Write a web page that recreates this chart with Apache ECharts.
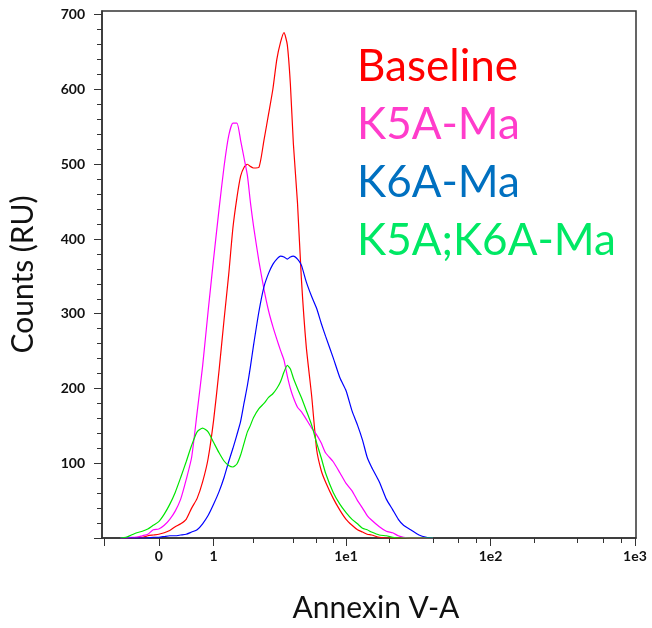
<!DOCTYPE html>
<html>
<head>
<meta charset="utf-8">
<script src="https://cdn.jsdelivr.net/npm/echarts@6/dist/echarts.min.js"></script>
<style>
  html, body { margin: 0; padding: 0; background: #fff; }
  #main { width: 652px; height: 628px; }
</style>
</head>
<body>
<div id="main"></div>
<script>
// Annexin V-A bins (fluorescence units, logicle display)
const annexin = [-0.7, -0.6, -0.5, -0.4, -0.3, -0.2, -0.1, 0, 0.1, 0.2, 0.3, 0.4, 0.5, 0.6, 0.7, 0.8, 0.9, 1.0,
  1.1, 1.2, 1.3, 1.4, 1.5, 1.6, 1.7, 1.8, 1.9, 2.0, 2.2, 2.4, 2.6, 2.8, 3.0, 3.2, 3.4, 3.6, 3.8, 4.0,
  4.3, 4.6, 5.0, 5.5, 6.0, 6.5, 7.0, 8.0, 9.0, 10,
  11, 12, 13, 14, 15, 17, 19, 21, 23, 25, 28, 32, 36, 40];

// counts per bin
const baseline = [0, 0, 0, 1, 1, 3, 4, 5, 7, 10, 15, 19, 25, 40, 53, 75, 106, 157,
  224, 292, 352, 415, 455, 484, 496, 500, 497, 495, 496, 532, 567, 600, 640, 663, 676, 660, 607, 528,
  448, 347, 257, 190, 118, 90, 75, 53, 37, 25,
  17, 11, 8, 5, 4, 1, 0, 0, 0, 0, 0, 0, 0, 0];
const k5a = [0, 0, 1, 1, 3, 5, 11, 12, 17, 25, 36, 52, 78, 108, 168, 230, 303, 373,
  440, 497, 538, 555, 555, 532, 508, 485, 448, 418, 370, 333, 304, 283, 266, 251, 238, 217, 200, 188,
  175, 169, 159, 147, 138, 127, 114, 102, 87, 73,
  63, 50, 40, 30, 24, 15, 9, 7, 3, 1, 0, 0, 0, 0];
const k6a = [0, 0, 0, 0, 0, 0, 1, 1, 2, 3, 3, 4, 5, 8, 11, 19, 30, 45,
  62, 81, 102, 120, 138, 156, 181, 204, 230, 257, 303, 336, 354, 366, 373, 377, 376, 373, 376, 377,
  373, 365, 343, 323, 307, 287, 270, 241, 214, 197,
  170, 151, 131, 108, 95, 75, 52, 38, 25, 17, 11, 4, 1, 0];
const k5ak6a = [0, 1, 4, 7, 9, 12, 17, 22, 32, 45, 61, 81, 102, 124, 142, 147, 142, 128,
  114, 103, 97, 95, 99, 111, 127, 142, 151, 161, 173, 180, 188, 193, 200, 209, 222, 231, 226, 214,
  200, 188, 171, 151, 127, 107, 87, 61, 45, 34,
  25, 19, 13, 11, 8, 4, 3, 1, 0, 0, 0, 0, 0, 0];

const seriesNames = ['Baseline', 'K5A-Ma', 'K6A-Ma', 'K5A;K6A-Ma'];
const lineColors = ['#ff0000', '#ff00ff', '#0000ff', '#00e600'];
const textColors = ['#ff0000', '#ff3ccb', '#0070c0', '#00e864'];

const xTickLabels = ['0', '1', '1e1', '1e2', '1e3'];
const xLabelValues = [0, 1, 10, 100, 1000];
const xMajorValues = [-1, 0, 1, 10, 100, 1000];
const xMinorValues = [2, 4, 6, 8, 20, 40, 60, 80, 200, 400, 600, 800];

// logicle-like display transform: linear below 1, log above
function toAxis(v) {
  if (v <= 1) return v;
  if (v <= 10) return 1 + 2.418 * Math.log10(v);
  return 3.418 + 2.636 * Math.log10(v / 10);
}

const yMajor = [];
const yMinor = [];
for (let i = 0; i <= 700; i += 20) {
  if (i % 100 === 0) yMajor.push(i); else yMinor.push(i);
}

const allCounts = [baseline, k5a, k6a, k5ak6a];
const font = 'Lato, "Open Sans", sans-serif';

let myChart = echarts.init(document.getElementById('main'), null, { renderer: 'canvas' });
let option = {
  animation: false,
  legend: {
    orient: 'vertical',
    left: 347,
    top: 40,
    icon: 'none',
    itemWidth: 0,
    itemHeight: 0,
    itemGap: 14,
    textStyle: { fontSize: 44, fontFamily: font },
    data: seriesNames.map((n, i) => ({ name: n, textStyle: { color: textColors[i] } }))
  },
  grid: {
    left: 100,
    right: 16,
    top: 11,
    bottom: 84,
    show: true,
    borderColor: '#333',
    borderWidth: 1.5,
    backgroundColor: '#fff'
  },
  xAxis: [
    {
      type: 'value',
      min: -1.036,
      max: 8.709,
      name: 'Annexin V-A',
      nameLocation: 'middle',
      nameGap: 55,
      nameTextStyle: { fontSize: 30, fontFamily: font, color: '#111', padding: [0, 0, 0, 14] },
      axisLine: { onZero: false, lineStyle: { color: '#333', width: 1.5 } },
      axisTick: { length: 8, lineStyle: { color: '#333' }, customValues: xMajorValues.map(toAxis) },
      axisLabel: {
        customValues: xLabelValues.map(toAxis),
        margin: 11,
        fontSize: 14,
        fontWeight: 'bold',
        fontFamily: font,
        color: '#111',
        formatter: function (val) {
          let best = 0;
          xLabelValues.forEach((v, i) => {
            if (Math.abs(toAxis(v) - val) < Math.abs(toAxis(xLabelValues[best]) - val)) best = i;
          });
          return xTickLabels[best];
        }
      },
      splitLine: { show: false }
    },
    {
      type: 'value',
      min: -1.036,
      max: 8.709,
      position: 'bottom',
      axisLine: { show: false, onZero: false },
      axisTick: { length: 5, lineStyle: { color: '#333' }, customValues: xMinorValues.map(toAxis) },
      axisLabel: { show: false },
      splitLine: { show: false }
    }
  ],
  yAxis: [
    {
      type: 'value',
      min: 0,
      max: 705,
      name: 'Counts (RU)',
      nameLocation: 'middle',
      nameGap: 64,
      nameTextStyle: { fontSize: 30, fontFamily: font, color: '#111' },
      axisLine: { show: true, onZero: false, lineStyle: { color: '#333', width: 1.5 } },
      axisTick: { show: true, length: 8, lineStyle: { color: '#333' }, customValues: yMajor },
      axisLabel: {
        customValues: yMajor.filter(v => v > 0),
        margin: 17,
        fontSize: 14,
        fontWeight: 'bold',
        fontFamily: font,
        color: '#111'
      },
      splitLine: { show: false }
    },
    {
      type: 'value',
      min: 0,
      max: 705,
      position: 'left',
      axisLine: { show: false, onZero: false },
      axisTick: { show: true, length: 5, lineStyle: { color: '#333' }, customValues: yMinor },
      axisLabel: { show: false },
      splitLine: { show: false }
    }
  ],
  series: seriesNames.map((n, i) => ({
    name: n,
    type: 'line',
    xAxisIndex: 0,
    yAxisIndex: 0,
    showSymbol: false,
    smooth: 0.2,
    color: lineColors[i],
    lineStyle: { width: 1.2, color: lineColors[i] },
    data: annexin.map((v, j) => [toAxis(v), allCounts[i][j]])
  }))
};
myChart.setOption(option);
</script>
</body>
</html>
